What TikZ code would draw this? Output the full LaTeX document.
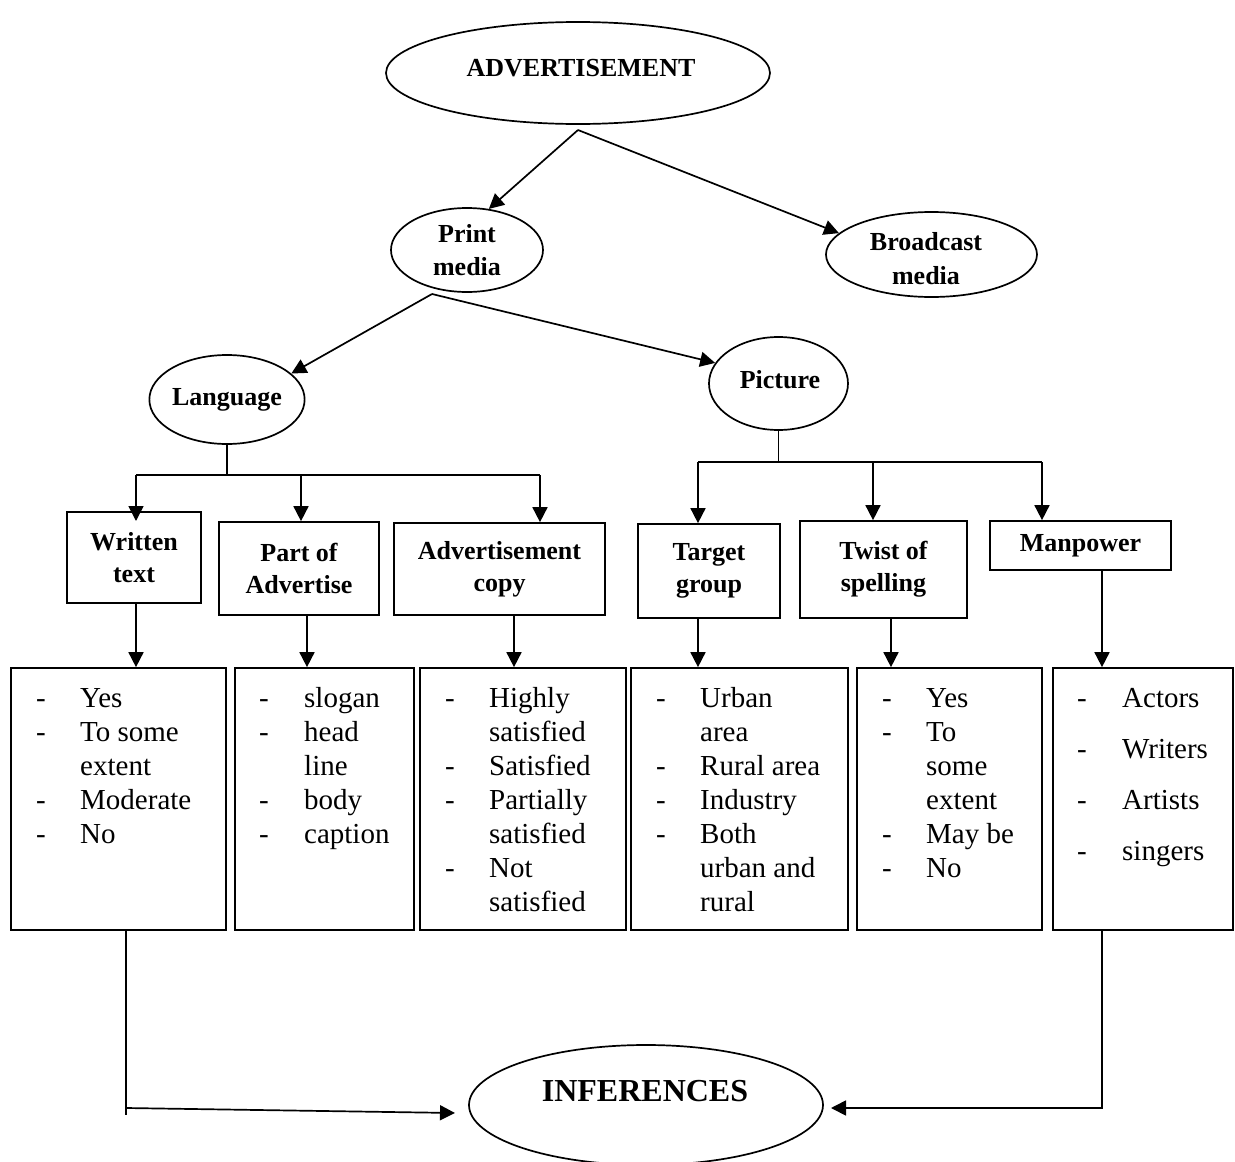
\documentclass[tikz,border=0pt]{standalone}
\usepackage{fontspec}
\setmainfont{Liberation Serif}
\usetikzlibrary{shapes.geometric,arrows.meta}
\begin{document}
\begin{tikzpicture}[x=1pt,y=-1pt,
  lw/.style={line width=1.7pt},
  arr/.style={lw,-{Triangle[length=15pt,width=15pt]}},
  ell/.style={draw,lw,ellipse,inner sep=0pt,align=center,font=\fontsize{26}{33}\selectfont\bfseries},
  etext/.style={inner sep=0pt,align=center},
  hbox/.style={draw,lw,rectangle,inner sep=0pt,align=center,font=\fontsize{26}{32}\selectfont\bfseries},
  lbox/.style={draw,lw,rectangle,inner sep=0pt,minimum height=262pt},
  ltext/.style={anchor=base west,inner sep=0pt,font=\fontsize{29}{34}\selectfont}
]
\useasboundingbox[fill=white] (0,0) rectangle (1235,1162);

% ellipses
\node[ell,minimum width=384pt,minimum height=102pt] (adv) at (578,73) {};
\node[etext,font=\fontsize{26}{33}\selectfont\bfseries] (advT) at (581,68) {ADVERTISEMENT};
\node[ell,minimum width=152pt,minimum height=84pt] (print) at (467,250) {Print\\media};
\node[ell,minimum width=211pt,minimum height=85pt] (broad) at (931.5,254.5) {};
\node[etext,font=\fontsize{26}{34}\selectfont\bfseries] (broadT) at (926,259) {Broadcast\\media};
\node[ell,minimum width=136pt,minimum height=89pt] (lang) at (227,399.5) {Language};
\node[ell,minimum width=139pt,minimum height=93pt] (pic) at (778.5,383.5) {};
\node[etext,font=\fontsize{26}{33}\selectfont\bfseries] (picT) at (780,380) {Picture};
\node[ell,minimum width=354pt,minimum height=120pt] (inf) at (646,1105) {};
\node[etext,font=\fontsize{32}{38}\selectfont\bfseries] (infT) at (645,1091) {INFERENCES};

% heading boxes
\node[hbox,minimum width=134pt,minimum height=91pt] (wt) at (134,557.5) {Written\\text};
\node[hbox,minimum width=160pt,minimum height=93pt] (pa) at (299,568.5) {Part of\\Advertise};
\node[hbox,minimum width=211pt,minimum height=92pt] (ac) at (499.5,569) {Advertisement\\copy};
\node[hbox,minimum width=142pt,minimum height=94pt] (tg) at (709,571) {Target\\group};
\node[hbox,minimum width=167pt,minimum height=97pt] (ts) at (883.5,569.5) {Twist of\\spelling};
\node[hbox,minimum width=181pt,minimum height=49pt] (mp) at (1080.5,545.5) {Manpower};

% list boxes
\node[lbox,minimum width=215pt] (l1) at (118.5,799) {};
\node[lbox,minimum width=179pt] (l2) at (324.5,799) {};
\node[lbox,minimum width=206pt] (l3) at (523,799) {};
\node[lbox,minimum width=217pt] (l4) at (739.5,799) {};
\node[lbox,minimum width=185pt] (l5) at (949.5,799) {};
\node[lbox,minimum width=180pt] (l6) at (1143,799) {};

% list texts
\node[ltext] (t1) at (36,707) {\begin{tabular}[t]{@{}p{44pt}@{}l@{}}-&Yes\\-&To some\\&extent\\-&Moderate\\-&No\end{tabular}};
\node[ltext] (t2) at (259,707) {\begin{tabular}[t]{@{}p{45pt}@{}l@{}}-&slogan\\-&head\\&line\\-&body\\-&caption\end{tabular}};
\node[ltext] (t3) at (445,707) {\begin{tabular}[t]{@{}p{44pt}@{}l@{}}-&Highly\\&satisfied\\-&Satisfied\\-&Partially\\&satisfied\\-&Not\\&satisfied\end{tabular}};
\node[ltext] (t4) at (656,707) {\begin{tabular}[t]{@{}p{44pt}@{}l@{}}-&Urban\\&area\\-&Rural area\\-&Industry\\-&Both\\&urban and\\&rural\end{tabular}};
\node[ltext] (t5) at (882,707) {\begin{tabular}[t]{@{}p{44pt}@{}l@{}}-&Yes\\-&To\\&some\\&extent\\-&May be\\-&No\end{tabular}};
\node[ltext] (t6) at (1077,707) {\begin{tabular}[t]{@{}p{45pt}@{}l@{}}-&Actors\\[17pt]-&Writers\\[17pt]-&Artists\\[17pt]-&singers\end{tabular}};

% top connectors
\coordinate (advB) at (578,130);
\draw[arr] (advB) -- (print.62);
\draw[arr] (advB) -- (broad.167);
\coordinate (prB) at (432,294);
\draw[arr] (prB) -- (lang.22);
\draw[arr] (prB) -- (pic.162);

% language tree
\coordinate (lj1) at (136,475);
\coordinate (lj2) at (301,475);
\coordinate (lj3) at (540,475);
\coordinate (wtin) at (136,521);
\draw[lw] (lang.south) -- (lang.south |- lj1);
\draw[lw] (lj1) -- (lj3);
\draw[arr] (lj1) -- (wtin);
\draw[arr] (lj2) -- (lj2 |- pa.north);
\draw[arr] (lj3) -- (lj3 |- ac.north);

% picture tree
\coordinate (pj1) at (698,462);
\coordinate (pj2) at (873,462);
\coordinate (pj3) at (1042,462);
\draw[lw] (pic.south) -- (pic.south |- pj1);
\draw[lw] (pj1) -- (pj3);
\draw[arr] (pj1) -- (pj1 |- tg.north);
\draw[arr] (pj2) -- (pj2 |- ts.north);
\draw[arr] (pj3) -- (pj3 |- mp.north);

% heading to list arrows
\coordinate (d1) at (136,0);
\coordinate (d2) at (307,0);
\coordinate (d3) at (514,0);
\coordinate (d4) at (698,0);
\coordinate (d5) at (891,0);
\coordinate (d6) at (1102,0);
\draw[arr] (wt.south -| d1) -- (l1.north -| d1);
\draw[arr] (pa.south -| d2) -- (l2.north -| d2);
\draw[arr] (ac.south -| d3) -- (l3.north -| d3);
\draw[arr] (tg.south -| d4) -- (l4.north -| d4);
\draw[arr] (ts.south -| d5) -- (l5.north -| d5);
\draw[arr] (mp.south -| d6) -- (l6.north -| d6);

% to inferences
\coordinate (cl) at (126,1108);
\coordinate (tl) at (455,1113);
\coordinate (cr) at (1102,1108);
\coordinate (tr) at (831,1108);
\draw[lw] (l1.south -| cl) -- ++(0,184);
\draw[arr] (cl) -- (tl);
\draw[arr] (l6.south -| cr) -- (cr) -- (tr);
\end{tikzpicture}
\end{document}
